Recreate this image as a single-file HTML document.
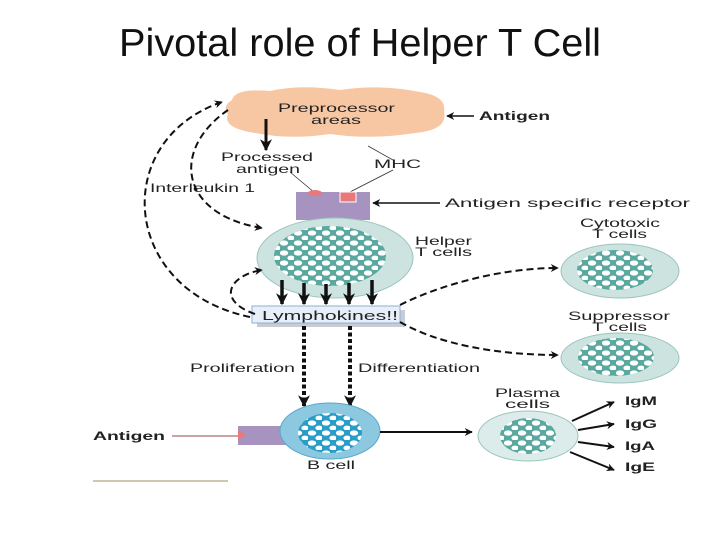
<!DOCTYPE html>
<html><head><meta charset="utf-8"><style>
html,body{margin:0;padding:0;background:#fff;}
svg{display:block;font-family:"Liberation Sans",Arial,sans-serif;}
</style></head><body>
<svg width="720" height="540" viewBox="0 0 720 540" xmlns="http://www.w3.org/2000/svg">
<defs>
<marker id="ah" viewBox="0 0 10 10" refX="9" refY="5" markerWidth="10" markerHeight="8" markerUnits="userSpaceOnUse" orient="auto"><path d="M0,0 L10,5 L0,10 L3,5 z" fill="#111"/></marker>
<marker id="ahb" viewBox="0 0 10 10" refX="9" refY="5" markerWidth="12" markerHeight="12" markerUnits="userSpaceOnUse" orient="auto"><path d="M0,0 L10,5 L0,10 L3,5 z" fill="#111"/></marker>
<pattern id="blobs" width="14" height="10" patternUnits="userSpaceOnUse">
<ellipse cx="4" cy="3" rx="4.2" ry="2.6" fill="#fff"/>
<ellipse cx="11" cy="8" rx="3.6" ry="2.4" fill="#fff"/>
</pattern>
<clipPath id="c1"><ellipse cx="330" cy="256" rx="56" ry="30"/></clipPath>
</defs>
<text x="360" y="56" font-size="39" text-anchor="middle" fill="#111" textLength="482" lengthAdjust="spacingAndGlyphs">Pivotal role of Helper T Cell</text>

<!-- cloud -->
<path d="M232,100 Q235,88 270,91 Q300,84 340,90 Q380,84 420,92 Q447,96 444,112 Q448,130 415,133 Q370,140 330,134 Q290,140 255,133 Q222,128 228,114 Q222,106 232,100z" fill="#f7c7a3"/>
<g font-size="12" fill="#222">
<text x="278" y="112" textLength="117" lengthAdjust="spacingAndGlyphs">Preprocessor</text>
<text x="311" y="124" textLength="50" lengthAdjust="spacingAndGlyphs">areas</text>
<text x="221" y="161" textLength="92" lengthAdjust="spacingAndGlyphs">Processed</text>
<text x="236" y="173" textLength="64" lengthAdjust="spacingAndGlyphs">antigen</text>
<text x="374" y="168" textLength="47" lengthAdjust="spacingAndGlyphs">MHC</text>
<text x="150" y="192" textLength="105" lengthAdjust="spacingAndGlyphs">Interleukin 1</text>
<text x="445" y="207" textLength="245" lengthAdjust="spacingAndGlyphs">Antigen specific receptor</text>
<text x="415" y="245" textLength="57" lengthAdjust="spacingAndGlyphs">Helper</text>
<text x="415" y="256" textLength="57" lengthAdjust="spacingAndGlyphs">T cells</text>
<text x="580" y="227" textLength="80" lengthAdjust="spacingAndGlyphs">Cytotoxic</text>
<text x="592" y="238" textLength="55" lengthAdjust="spacingAndGlyphs">T cells</text>
<text x="568" y="320" textLength="102" lengthAdjust="spacingAndGlyphs">Suppressor</text>
<text x="592" y="331" textLength="55" lengthAdjust="spacingAndGlyphs">T cells</text>
<text x="190" y="372" textLength="105" lengthAdjust="spacingAndGlyphs">Proliferation</text>
<text x="358" y="372" textLength="122" lengthAdjust="spacingAndGlyphs">Differentiation</text>
<text x="495" y="397" textLength="65" lengthAdjust="spacingAndGlyphs">Plasma</text>
<text x="505" y="408" textLength="45" lengthAdjust="spacingAndGlyphs">cells</text>
<text x="307" y="469" textLength="48" lengthAdjust="spacingAndGlyphs">B cell</text>
</g>
<g font-size="12" font-weight="bold" fill="#222">
<text x="479" y="120" textLength="71" lengthAdjust="spacingAndGlyphs">Antigen</text>
<text x="93" y="440" textLength="72" lengthAdjust="spacingAndGlyphs">Antigen</text>
<text x="625" y="405" textLength="32" lengthAdjust="spacingAndGlyphs">IgM</text>
<text x="625" y="428" textLength="32" lengthAdjust="spacingAndGlyphs">IgG</text>
<text x="625" y="450" textLength="30" lengthAdjust="spacingAndGlyphs">IgA</text>
<text x="625" y="471" textLength="30" lengthAdjust="spacingAndGlyphs">IgE</text>
</g>
<line x1="474" y1="116" x2="447" y2="116" stroke="#111" stroke-width="1.5" marker-end="url(#ah)"/>
<line x1="266" y1="119" x2="266" y2="150" stroke="#111" stroke-width="3" marker-end="url(#ahb)"/>
<line x1="290" y1="172" x2="315" y2="193" stroke="#333" stroke-width="0.8"/>
<line x1="393" y1="170" x2="348" y2="193" stroke="#333" stroke-width="0.8"/>
<line x1="368" y1="146" x2="393" y2="160" stroke="#333" stroke-width="0.8"/>

<!-- receptor -->
<rect x="296" y="192" width="74" height="28" fill="#a693c0"/>
<ellipse cx="315" cy="193" rx="7" ry="3" fill="#e8787a"/>
<rect x="340" y="192" width="16" height="10" fill="#e8787a" stroke="#fff" stroke-width="1"/>
<line x1="440" y1="203" x2="373" y2="203" stroke="#111" stroke-width="1.5" marker-end="url(#ah)"/>

<!-- helper T -->
<ellipse cx="335" cy="258" rx="78" ry="40" fill="#cde3df" stroke="#9cc4be"/>
<ellipse cx="330" cy="256" rx="56" ry="30" fill="#5aa8a0"/>
<rect x="270" y="222" width="120" height="70" fill="url(#blobs)" clip-path="url(#c1)"/>

<g stroke="#111" stroke-width="3.5" marker-end="url(#ahb)">
<line x1="282" y1="280" x2="282" y2="304"/>
<line x1="304" y1="283" x2="304" y2="304"/>
<line x1="326" y1="284" x2="326" y2="304"/>
<line x1="349" y1="283" x2="349" y2="304"/>
<line x1="372" y1="280" x2="372" y2="304"/>
</g>
<rect x="257" y="310" width="148" height="17" fill="#c8ccd4"/>
<rect x="252" y="306" width="148" height="17" fill="#e8eff8" stroke="#8ab0d8"/>
<text x="262" y="320" font-size="13" fill="#222" textLength="136" lengthAdjust="spacingAndGlyphs">Lymphokines!!</text>

<!-- dashed connectors -->
<g fill="none" stroke="#111" stroke-width="2" stroke-dasharray="7,4">
<path d="M250,317 C120,290 110,140 222,102" marker-end="url(#ah)"/>
<path d="M228,110 C170,150 180,215 262,228" marker-end="url(#ah)"/>
<path d="M255,314 C215,300 230,275 262,270" marker-end="url(#ah)"/>
<path d="M400,305 C440,285 500,268 558,268" marker-end="url(#ah)"/>
<path d="M400,322 C440,345 500,355 558,355" marker-end="url(#ah)"/>
</g>
<g stroke="#111" stroke-width="4" stroke-dasharray="4,2.5" marker-end="url(#ahb)">
<line x1="304" y1="326" x2="304" y2="406"/>
<line x1="350" y1="326" x2="350" y2="406"/>
</g>

<!-- cytotoxic / suppressor -->
<ellipse cx="620" cy="271" rx="59" ry="27" fill="#cde3df" stroke="#9cc4be"/>
<ellipse cx="615" cy="270" rx="38" ry="20" fill="#5aa8a0"/>
<ellipse cx="615" cy="270" rx="38" ry="20" fill="url(#blobs)"/>
<ellipse cx="620" cy="358" rx="59" ry="25" fill="#cde3df" stroke="#9cc4be"/>
<ellipse cx="616" cy="357" rx="38" ry="19" fill="#5aa8a0"/>
<ellipse cx="616" cy="357" rx="38" ry="19" fill="url(#blobs)"/>

<!-- B cell -->
<line x1="172" y1="436" x2="238" y2="436" stroke="#944" stroke-width="1"/>
<rect x="238" y="426" width="50" height="19" fill="#a693c0"/>
<path d="M238,430 L246,435 L238,440z" fill="#e8787a"/>
<ellipse cx="330" cy="431" rx="50" ry="28" fill="#8cc8e0" stroke="#5aa8cc"/>
<ellipse cx="330" cy="433" rx="32" ry="20" fill="#2a9cc8"/>
<ellipse cx="330" cy="433" rx="32" ry="20" fill="url(#blobs)"/>
<line x1="380" y1="432" x2="472" y2="432" stroke="#111" stroke-width="2" marker-end="url(#ah)"/>

<!-- plasma -->
<ellipse cx="528" cy="436" rx="50" ry="25" fill="#dcecea" stroke="#9cc4be"/>
<ellipse cx="528" cy="436" rx="28" ry="18" fill="#5aa8a0"/>
<ellipse cx="528" cy="436" rx="28" ry="18" fill="url(#blobs)"/>
<g stroke="#111" stroke-width="2" marker-end="url(#ah)">
<line x1="572" y1="421" x2="614" y2="402"/>
<line x1="578" y1="430" x2="614" y2="424"/>
<line x1="578" y1="442" x2="614" y2="447"/>
<line x1="570" y1="452" x2="614" y2="470"/>
</g>
<line x1="93" y1="481" x2="228" y2="481" stroke="#cfc7ae" stroke-width="2"/>
</svg>
</body></html>
